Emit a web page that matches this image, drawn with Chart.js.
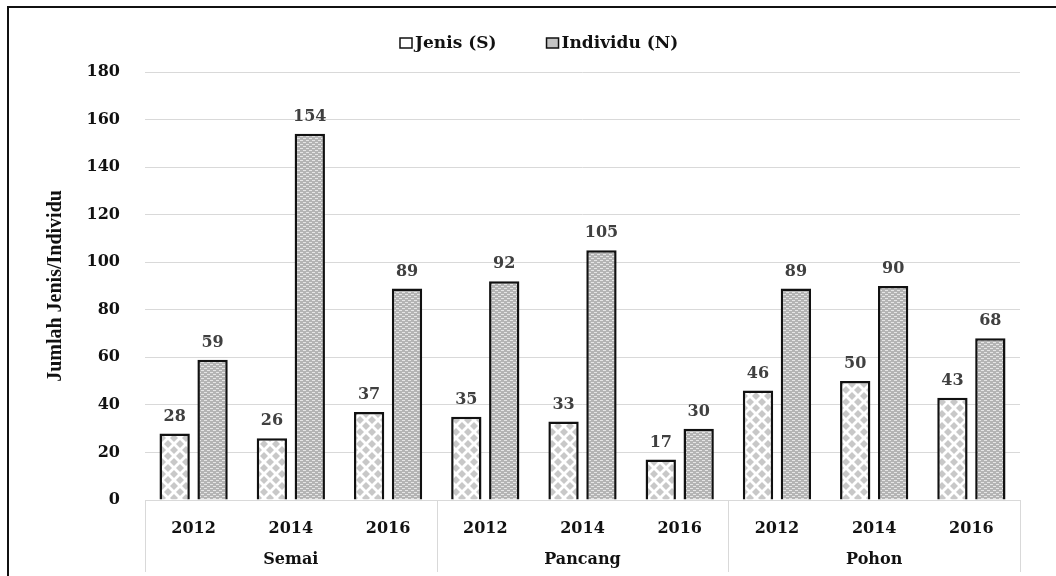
<!DOCTYPE html>
<html>
<head>
<meta charset="utf-8">
<script src="https://cdn.jsdelivr.net/npm/chart.js@4"></script>
<style>
  body { margin: 0; background: #fff; }
  canvas { display: block; }
</style>
</head>
<body>
<canvas id="chart" width="1056" height="576"></canvas>
<script>
const groups = ['Semai', 'Pancang', 'Pohon'];
const years = ['2012', '2014', '2016'];
const jenis = [28, 26, 37, 35, 33, 17, 46, 50, 43];
const individu = [59, 154, 89, 92, 105, 30, 89, 90, 68];
const yTicks = [0, 20, 40, 60, 80, 100, 120, 140, 160, 180];

const labels = [];
groups.forEach(() => years.forEach(y => labels.push(y)));

const tickFont = { family: 'DejaVu Serif', weight: 'bold', size: 16 };

// fill patterns for the two series
function makePattern(w, h, draw) {
    const c = document.createElement('canvas');
    c.width = w;
    c.height = h;
    draw(c.getContext('2d'));
    return c;
}

const diamondTile = makePattern(12, 12, g => {
    g.fillStyle = '#ffffff';
    g.fillRect(0, 0, 12, 12);
    g.fillStyle = '#c8c8c8';
    [[6, 6], [0, 0], [12, 0], [0, 12], [12, 12]].forEach(([cx, cy]) => {
        g.beginPath();
        g.moveTo(cx, cy - 4);
        g.lineTo(cx + 4, cy);
        g.lineTo(cx, cy + 4);
        g.lineTo(cx - 4, cy);
        g.closePath();
        g.fill();
    });
});

const meshTile = makePattern(6, 4, g => {
    g.fillStyle = '#b4b4b4';
    g.fillRect(0, 0, 6, 4);
    g.fillStyle = '#e6e6e6';
    g.fillRect(0, 0, 3, 1);
    g.fillRect(3, 2, 3, 1);
});

const ctx = document.getElementById('chart').getContext('2d');
const jenisFill = ctx.createPattern(diamondTile, 'repeat');
const individuFill = ctx.createPattern(meshTile, 'repeat');

// white background, outer frame, legend, value labels and group row
const decorations = {
    id: 'decorations',
    beforeDraw(chart) {
        const c = chart.ctx;
        c.save();
        c.fillStyle = '#fff';
        c.fillRect(0, 0, chart.width, chart.height);
        c.restore();
    },
    afterDatasetsDraw(chart) {
        const c = chart.ctx;
        c.save();
        c.font = 'bold 16px "DejaVu Serif"';
        c.fillStyle = '#404040';
        c.textAlign = 'center';
        c.textBaseline = 'bottom';
        chart.data.datasets.forEach((ds, di) => {
            chart.getDatasetMeta(di).data.forEach((bar, i) => {
                c.fillText(String(ds.data[i]), bar.x, bar.y - 9);
            });
        });
        c.restore();
    },
    afterDraw(chart) {
        const c = chart.ctx;
        const x = chart.scales.x;
        const area = chart.chartArea;
        c.save();

        // group separators and group names under the year row
        const half = (x.getPixelForValue(1) - x.getPixelForValue(0)) / 2;
        c.strokeStyle = '#d9d9d9';
        c.lineWidth = 1;
        for (let g = 0; g <= groups.length; g++) {
            const px = g < groups.length
                ? x.getPixelForValue(g * years.length) - half
                : x.getPixelForValue(labels.length - 1) + half;
            c.beginPath();
            c.moveTo(Math.round(px) + 0.5, area.bottom);
            c.lineTo(Math.round(px) + 0.5, 572);
            c.stroke();
        }
        c.font = 'bold 16px "DejaVu Serif"';
        c.fillStyle = '#111';
        c.textAlign = 'center';
        c.textBaseline = 'middle';
        groups.forEach((name, g) => {
            c.fillText(name, x.getPixelForValue(g * years.length + 1), 560);
        });

        // legend
        c.font = 'bold 17px "DejaVu Serif"';
        c.textAlign = 'left';
        let lx = 400;
        const ly = 43;
        chart.data.datasets.forEach(ds => {
            c.fillStyle = ds.legendFill;
            c.fillRect(lx, ly - 5, 12, 10);
            c.strokeStyle = '#111';
            c.lineWidth = 1.5;
            c.strokeRect(lx, ly - 5, 12, 10);
            c.fillStyle = '#111';
            c.fillText(ds.label, lx + 15, ly + 1);
            lx += 15 + c.measureText(ds.label).width + 50;
        });

        // outer frame
        c.strokeStyle = '#111';
        c.lineWidth = 2;
        c.strokeRect(8, 7, chart.width + 20, chart.height + 20);
        c.restore();
    }
};

new Chart(ctx, {
    type: 'bar',
    data: {
        labels: labels,
        datasets: [
            {
                label: 'Jenis (S)',
                data: jenis,
                backgroundColor: jenisFill,
                legendFill: '#ffffff',
                borderColor: '#111',
                borderWidth: 2.5,
                categoryPercentage: 0.78,
                barPercentage: 0.8
            },
            {
                label: 'Individu (N)',
                data: individu,
                backgroundColor: individuFill,
                legendFill: '#c4c4c4',
                borderColor: '#111',
                borderWidth: 2.5,
                categoryPercentage: 0.78,
                barPercentage: 0.8
            }
        ]
    },
    options: {
        responsive: false,
        animation: false,
        layout: {
            padding: { top: 72, right: 36, left: 0, bottom: 0 }
        },
        plugins: {
            legend: { display: false },
            tooltip: { enabled: false }
        },
        scales: {
            x: {
                grid: { display: false },
                border: { color: '#d9d9d9', width: 1 },
                ticks: { font: tickFont, color: '#111', padding: 11, maxRotation: 0 },
                afterFit: scale => { scale.height = 76; }
            },
            y: {
                min: yTicks[0],
                max: yTicks[yTicks.length - 1],
                afterBuildTicks: scale => {
                    scale.ticks = yTicks.map(v => ({ value: v }));
                },
                grid: { color: '#d9d9d9', lineWidth: 1, drawTicks: false },
                border: { display: false },
                ticks: { font: tickFont, color: '#111', padding: 25 },
                title: {
                    display: true,
                    text: 'Jumlah Jenis/Individu',
                    font: { family: 'Liberation Serif', weight: 'bold', size: 20 },
                    color: '#111',
                    padding: { top: 44, bottom: 0 }
                },
                afterFit: scale => { scale.width = 145; }
            }
        }
    },
    plugins: [decorations]
});
</script>
</body>
</html>
